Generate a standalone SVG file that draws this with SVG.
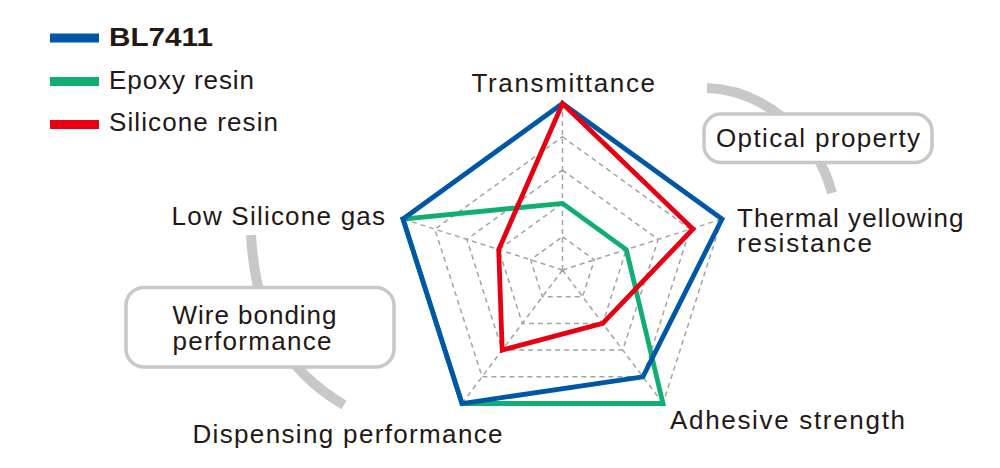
<svg xmlns="http://www.w3.org/2000/svg" width="1000" height="468" viewBox="0 0 1000 468">
<style>
text{font-family:"Liberation Sans",Arial,sans-serif;font-size:26px;fill:#231815}
.b{font-weight:bold}
.grid{fill:none;stroke:#a3a3a3;stroke-width:1.5;stroke-dasharray:5 4}
.arc{fill:none;stroke:#c8c8c8;stroke-width:10}
.box{fill:#fff;stroke:#c8c8c8;stroke-width:3.5}
.s{fill:none;stroke-width:4.8;stroke-linejoin:miter;stroke-miterlimit:10}
</style>
<rect width="1000" height="468" fill="#fff"/>
<g id="legend">
<rect x="50" y="33.5" width="49" height="9" fill="#0057a8"/>
<text class="b" x="109" y="46" textLength="104" lengthAdjust="spacingAndGlyphs">BL7411</text>
<rect x="50" y="77" width="49" height="9" fill="#10ae72"/>
<text x="109" y="89" textLength="145" lengthAdjust="spacing">Epoxy resin</text>
<rect x="50" y="120" width="49" height="9" fill="#e60012"/>
<text x="109" y="131" textLength="169" lengthAdjust="spacing">Silicone resin</text>
</g>
<g id="connectors">
<path class="arc" d="M707,88 C760,90 815,130 832,193"/>
<path class="arc" d="M251,235 C256,320 285,370 344,405"/>
</g>
<g id="grid">
<polygon class="grid" points="562.5,236.7 594.4,259.8 582.6,296.7 542.4,296.7 530.6,259.8"/>
<polygon class="grid" points="562.5,203.4 626.3,249.6 602.7,323.4 522.3,323.4 498.7,249.6"/>
<polygon class="grid" points="562.5,170.1 658.2,239.4 622.8,350.1 502.2,350.1 466.8,239.4"/>
<polygon class="grid" points="562.5,136.8 690.1,229.2 642.9,376.8 482.1,376.8 434.9,229.2"/>
<polygon class="grid" points="562.5,103.5 722,219 663,403.5 462,403.5 403,219"/>
<path class="grid" d="M562.5,270 L562.5,103.5 M562.5,270 L722,219 M562.5,270 L663,403.5 M562.5,270 L462,403.5 M562.5,270 L403,219"/>
</g>
<g id="series-epoxy">
<polygon class="s" stroke="#10ae72" points="562.5,203.4 626.3,249.6 663,403.5 462,403.5 403,219"/>
</g>
<g id="series-bl7411">
<polygon class="s" stroke="#0057a8" points="562.5,103.5 722,219 642.9,376.8 462,403.5 403,219"/>
</g>
<g id="series-silicone">
<polygon class="s" stroke="#e60012" points="562.5,103.5 693,229 602.7,323.4 502.2,350.1 498.7,249.6"/>
</g>
<g id="axis-labels">
<text x="471.5" y="91.5" textLength="183.5" lengthAdjust="spacing">Transmittance</text>
<text x="737" y="227" textLength="226.5" lengthAdjust="spacing">Thermal yellowing</text>
<text x="737" y="252" textLength="135" lengthAdjust="spacing">resistance</text>
<text x="670" y="429" textLength="235" lengthAdjust="spacing">Adhesive strength</text>
<text x="192.5" y="443" textLength="310" lengthAdjust="spacing">Dispensing performance</text>
<text x="171.5" y="224.5" textLength="213.5" lengthAdjust="spacing">Low Silicone gas</text>
</g>
<g id="optical-property">
<rect class="box" x="704" y="114" width="228" height="48.5" rx="17"/>
<text x="716" y="147" textLength="204" lengthAdjust="spacing">Optical property</text>
</g>
<g id="wire-bonding">
<rect class="box" x="126" y="287.5" width="268" height="79.5" rx="18"/>
<text x="172.5" y="323.5" textLength="164" lengthAdjust="spacing">Wire bonding</text>
<text x="172.5" y="349.5" textLength="159" lengthAdjust="spacing">performance</text>
</g>
</svg>
